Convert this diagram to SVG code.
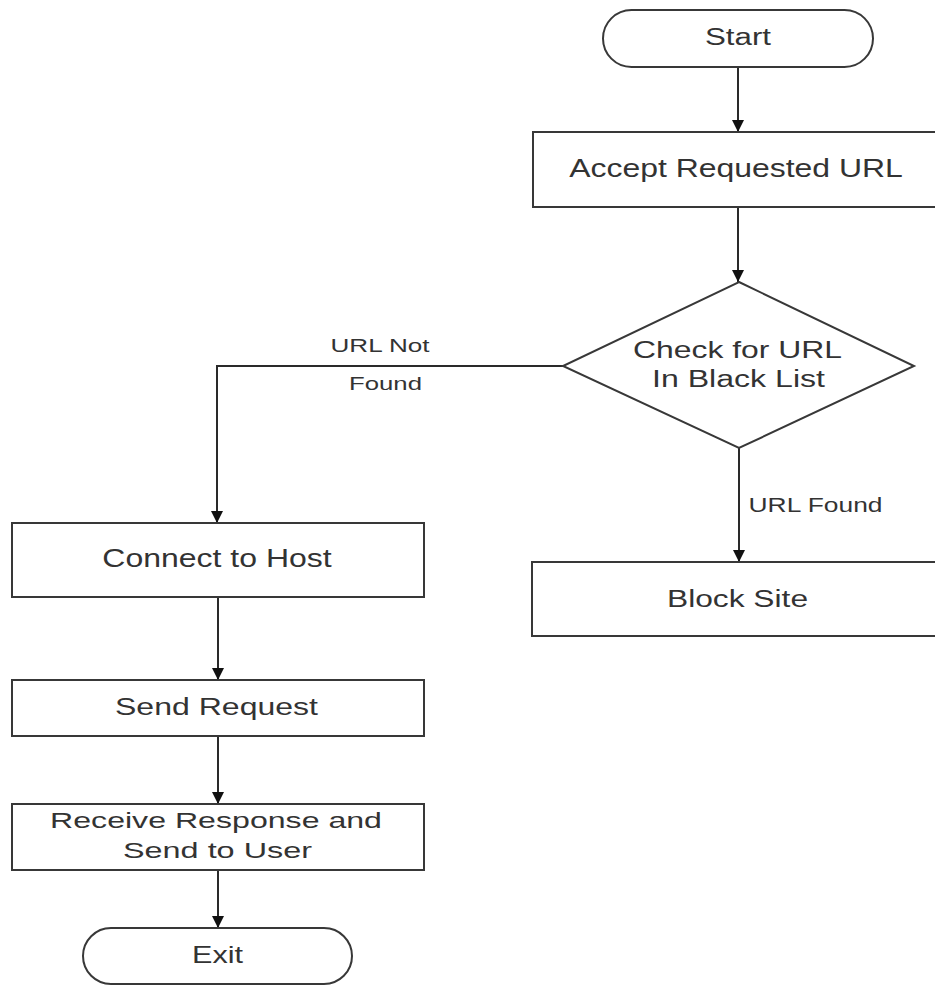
<svg xmlns="http://www.w3.org/2000/svg" width="935" height="990" viewBox="0 0 935 990">
  <style>
    .shape { fill: #ffffff; stroke: #383838; stroke-width: 2; }
    .edge { fill: none; stroke: #2a2a2a; stroke-width: 2; }
    text { font-family: "Liberation Sans", Arial, sans-serif; fill: #333333; text-anchor: middle; }
  </style>
  <defs>
    <marker id="arrow" viewBox="0 0 10 10" refX="10" refY="5" markerWidth="12" markerHeight="12" markerUnits="userSpaceOnUse" orient="auto">
      <path d="M0,0 L10,5 L0,10 z" fill="#111111"/>
    </marker>
  </defs>

  <rect width="935" height="990" fill="#ffffff"/>

  <!-- connectors and their labels; labels are widened horizontally -->
  <g id="connectors">
    <line class="edge" x1="738" y1="67" x2="738" y2="132" marker-end="url(#arrow)"/>
    <line class="edge" x1="738" y1="207" x2="738" y2="282" marker-end="url(#arrow)"/>
    <polyline class="edge" points="563,366 217,366 217,523" marker-end="url(#arrow)"/>
    <line class="edge" x1="739" y1="448" x2="739" y2="562" marker-end="url(#arrow)"/>
    <line class="edge" x1="218" y1="597" x2="218" y2="680" marker-end="url(#arrow)"/>
    <line class="edge" x1="218" y1="736" x2="218" y2="804" marker-end="url(#arrow)"/>
    <line class="edge" x1="218" y1="870" x2="218" y2="928" marker-end="url(#arrow)"/>
    <text transform="translate(380,352) scale(1.45,1)" font-size="18">URL Not</text>
    <text transform="translate(385.5,390) scale(1.43,1)" font-size="18">Found</text>
    <text transform="translate(815.5,512) scale(1.32,1)" font-size="20">URL Found</text>
  </g>

  <g id="start">
    <rect class="shape" x="603" y="10" width="270" height="57" rx="28.5" ry="28.5"/>
    <text transform="translate(738,45) scale(1.36,1)" font-size="23">Start</text>
  </g>

  <g id="accept-url">
    <rect class="shape" x="533" y="132" width="404" height="75"/>
    <text transform="translate(736,177) scale(1.229,1)" font-size="26">Accept Requested URL</text>
  </g>

  <g id="check-blacklist">
    <polygon class="shape" points="739,282 914,366 739,448 563,366"/>
    <text transform="translate(737.5,358) scale(1.386,1)" font-size="23">Check for URL</text>
    <text transform="translate(738.5,387) scale(1.395,1)" font-size="23">In Black List</text>
  </g>

  <g id="block-site">
    <rect class="shape" x="532" y="562" width="405" height="74"/>
    <text transform="translate(737.5,607) scale(1.38,1)" font-size="23">Block Site</text>
  </g>

  <g id="connect-host">
    <rect class="shape" x="12" y="523" width="412" height="74"/>
    <text transform="translate(217,567) scale(1.28,1)" font-size="25">Connect to Host</text>
  </g>

  <g id="send-request">
    <rect class="shape" x="12" y="680" width="412" height="56"/>
    <text transform="translate(216.5,715) scale(1.335,1)" font-size="24">Send Request</text>
  </g>

  <g id="receive-response">
    <rect class="shape" x="12" y="804" width="412" height="66"/>
    <text transform="translate(216,828) scale(1.427,1)" font-size="22.5">Receive Response and</text>
    <text transform="translate(217.5,858) scale(1.44,1)" font-size="22.5">Send to User</text>
  </g>

  <g id="exit">
    <rect class="shape" x="83" y="928" width="269" height="56" rx="28" ry="28"/>
    <text transform="translate(217.5,963) scale(1.33,1)" font-size="23">Exit</text>
  </g>
</svg>
